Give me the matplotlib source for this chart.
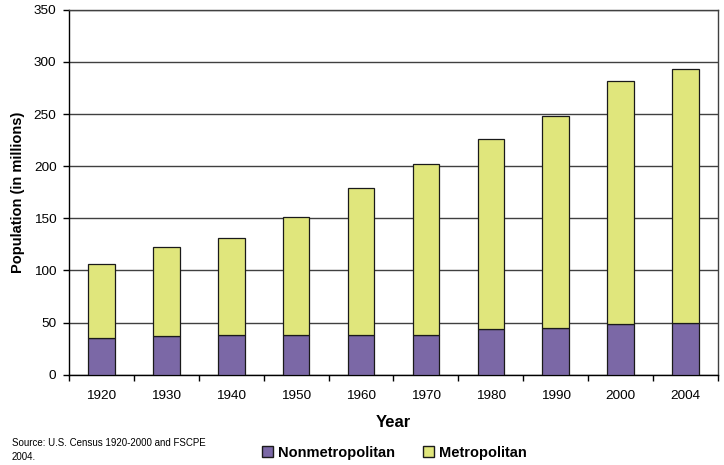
import numpy as np
import matplotlib.pyplot as plt
from matplotlib.patches import Patch

plt.rcParams['font.family'] = ['Liberation Sans', 'DejaVu Sans']

# values (millions)
years = ["1920", "1930", "1940", "1950", "1960", "1970", "1980", "1990", "2000", "2004"]
nonmetro = [35.4, 37.2, 38.3, 38.4, 38.2, 38.6, 43.8, 44.4, 48.8, 49.7]
total = [106.0, 122.8, 131.6, 151.2, 179.0, 202.4, 226.4, 248.6, 281.5, 293.3]
metro = [t - n for t, n in zip(total, nonmetro)]

purple = "#7B68A6"
yellow = "#E0E67C"

fig = plt.figure(figsize=(7.24, 4.65), dpi=100)
ax = fig.add_axes([0.0953, 0.194, 0.8964, 0.785])

x = np.arange(len(years))
ax.bar(x, nonmetro, width=0.41, color=purple, edgecolor="#1a1a1a", linewidth=0.9, zorder=3)
ax.bar(x, metro, width=0.41, bottom=nonmetro, color=yellow, edgecolor="#1a1a1a", linewidth=0.9, zorder=3)

ax.set_xlim(-0.5, len(years) - 0.5)
ax.set_ylim(0, 350)
ax.set_yticks(np.arange(0, 351, 50))
ax.yaxis.grid(True, color="#404040", linewidth=1.0, zorder=0)

# category labels centered, ticks at category boundaries
ax.set_xticks(x)
ax.set_xticklabels(years, fontsize=9.7)
ax.tick_params(axis="x", length=0, pad=11)
ax.set_xticks(np.arange(-0.5, len(years), 1), minor=True)
ax.tick_params(axis="x", which="minor", length=4, width=1, direction="out")
ax.tick_params(axis="y", length=4, width=1, direction="out", labelsize=9.7, pad=5)

for s in ax.spines.values():
    s.set_linewidth(1.0)
    s.set_color("black")
ax.spines["top"].set_color("#404040")
ax.spines["right"].set_color("#404040")

ax.set_ylabel("Population (in millions)", fontsize=10.5, fontweight="bold", labelpad=6)
ax.set_xlabel("Year", fontsize=12, fontweight="bold", labelpad=9)

handles = [Patch(facecolor=purple, edgecolor="#1a1a1a", label="Nonmetropolitan"),
           Patch(facecolor=yellow, edgecolor="#1a1a1a", label="Metropolitan")]
leg = fig.legend(handles=handles, loc="center", bbox_to_anchor=(0.545, 0.026), ncol=2,
                 frameon=False, handlelength=0.75, handleheight=0.75, handletextpad=0.35,
                 columnspacing=1.9, prop={"size": 10.5, "weight": "bold"})

fig.text(0.016, 0.033, "Source: U.S. Census 1920-2000 and FSCPE\n2004.",
         fontsize=7, va="center", ha="left", linespacing=1.5)

fig.savefig("out.png", dpi=100)
